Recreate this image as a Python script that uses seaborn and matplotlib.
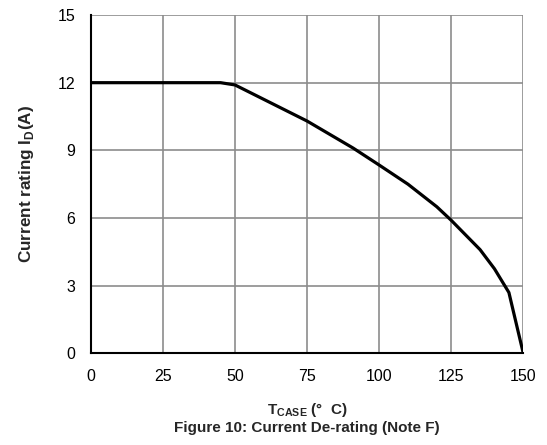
import matplotlib
matplotlib.use("Agg")
import matplotlib.pyplot as plt
import seaborn as sns
import pandas as pd

t_case = [0, 25, 45, 50, 75, 91, 100, 110, 120, 125, 135, 140, 145, 150]
current = [12, 12, 12, 11.9, 10.3, 9.1, 8.35, 7.5, 6.5, 5.9, 4.6, 3.75, 2.7, 0]
x_ticks = [0, 25, 50, 75, 100, 125, 150]
y_ticks = [0, 3, 6, 9, 12, 15]

sns.set_theme(style="white")
plt.rcParams['font.family'] = ['Liberation Sans', 'DejaVu Sans']

df = pd.DataFrame({"T": t_case, "I": current})
fig = plt.figure(figsize=(5.47, 4.45), dpi=100)
ax = fig.add_axes([0.166, 0.2058, 0.7907, 0.7605])
sns.lineplot(data=df, x="T", y="I", ax=ax, color="black", linewidth=2.3, zorder=3)

ax.set_xlim(0, 150)
ax.set_ylim(0, 15)
ax.set_xticks(x_ticks)
ax.set_yticks(y_ticks)
ax.grid(True, color="#8c8c8c", linewidth=1.2)
ax.tick_params(length=0, labelsize=11.5, pad=11, colors="black")
for s in ["top", "right"]:
    ax.spines[s].set_visible(False)
for s in ["left", "bottom"]:
    ax.spines[s].set_color("black")
    ax.spines[s].set_linewidth(1.5)
    ax.spines[s].set_zorder(4)
ax.set_xlabel("")
ax.set_ylabel("Current rating I$_\\mathregular{D}$(A)", fontsize=12.3, fontweight="bold", labelpad=16)

cx = 0.5 * (0.166 + 0.9567)
fig.text(cx, 1 - 410 / 445, "T$_\\mathregular{CASE}$ (°  C)", ha="center", va="center",
         fontsize=11, fontweight="bold")
fig.text(cx, 1 - 428 / 445, "Figure 10: Current De-rating (Note F)", ha="center", va="center",
         fontsize=11, fontweight="bold")

fig.savefig("out.png", dpi=100)
